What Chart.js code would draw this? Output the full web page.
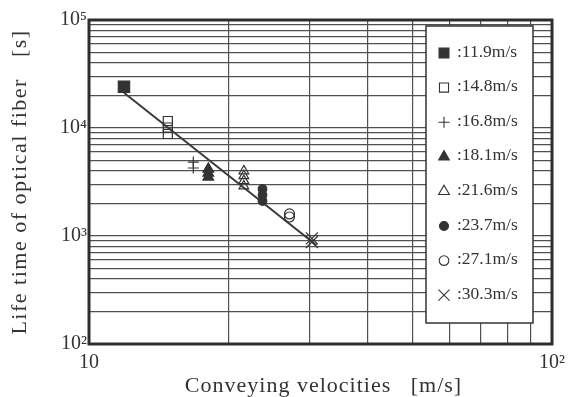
<!DOCTYPE html>
<html><head><meta charset="utf-8">
<script src="https://cdn.jsdelivr.net/npm/chart.js@4.4.1/dist/chart.umd.min.js"></script>
<style>html,body{margin:0;padding:0;background:#fff;}#wrap{width:574px;height:397px;}</style>
</head><body><div id="wrap"><canvas id="c" width="574" height="397"></canvas></div>
<script>
// ---- data ----
const seriesLabels = [':11.9m/s', ':14.8m/s', ':16.8m/s', ':18.1m/s', ':21.6m/s', ':23.7m/s', ':27.1m/s', ':30.3m/s'];
const velocities = [11.9, 14.8, 16.8, 18.1, 21.6, 23.7, 27.1, 30.3];
const life119 = [24100];
const life148 = [11600, 10100, 8800];
const life168 = [4840, 4260];
const life181 = [4170, 3830, 3520];
const life216 = [4000, 3600, 3250, 2900];
const life237 = [2720, 2400, 2110];
const life271 = [1600, 1500];
const life303 = [950, 880];
const lifeTimes = [life119, life148, life168, life181, life216, life237, life271, life303];
const fitX = [11.9, 31.0];
const fitY = [21200, 820];
const xTickValues = [10, 20, 30, 40, 50, 60, 70, 80, 90, 100];
const yTickValues = [100, 200, 300, 400, 500, 600, 700, 800, 900,
  1000, 2000, 3000, 4000, 5000, 6000, 7000, 8000, 9000,
  10000, 20000, 30000, 40000, 50000, 60000, 70000, 80000, 90000, 100000];
const xTickLabels = {10: '10', 100: '10\u00B2'};
const yTickLabels = {100: '10\u00B2', 1000: '10\u00B3', 10000: '10\u2074', 100000: '10\u2075'};
const xTitle = 'Conveying velocities   [m/s]';
const yTitle = 'Life time of optical fiber   [s]';

// ---- styles ----
const INK = '#333';
const NONE = 'rgba(0,0,0,0)';
const markerStyles = [
  {pointStyle: 'rect', radius: 8, fill: INK, legendRadius: 7},
  {pointStyle: 'rect', radius: 6.4, fill: NONE, legendRadius: 6.4},
  {pointStyle: 'cross', radius: 5.5, fill: NONE, legendRadius: 5.5},
  {pointStyle: 'triangle', radius: 6.2, fill: INK, legendRadius: 6.2},
  {pointStyle: 'triangle', radius: 5.6, fill: NONE, legendRadius: 6.2},
  {pointStyle: 'circle', radius: 4.3, fill: INK, legendRadius: 4.5},
  {pointStyle: 'circle', radius: 5, fill: NONE, legendRadius: 4.8},
  {pointStyle: 'crossRot', radius: 8.5, fill: NONE, legendRadius: 7.8}
];
const SERIF = "'Liberation Serif', 'DejaVu Serif', serif";

const datasets = velocities.map((v, i) => ({
  type: 'scatter',
  label: seriesLabels[i],
  data: lifeTimes[i].map(t => ({x: v, y: t})),
  pointStyle: markerStyles[i].pointStyle,
  pointRadius: markerStyles[i].radius,
  pointHoverRadius: markerStyles[i].radius,
  backgroundColor: markerStyles[i].fill,
  borderColor: INK,
  borderWidth: 1.2
}));
datasets.push({
  type: 'line',
  label: 'fit',
  data: fitX.map((x, i) => ({x: x, y: fitY[i]})),
  borderColor: '#3a3a3a',
  borderWidth: 2,
  pointRadius: 0,
  fill: false
});

const framePlugin = {
  id: 'frameAndLegend',
  afterDraw(chart) {
    const ctx = chart.ctx;
    const a = chart.chartArea;
    ctx.save();
    // legend box
    const bx = 426, by = 26, bw = 107, bh = 297;
    ctx.fillStyle = '#fff';
    ctx.fillRect(bx, by, bw, bh);
    ctx.strokeStyle = INK;
    ctx.lineWidth = 1.5;
    ctx.strokeRect(bx, by, bw, bh);
    ctx.font = '17.5px ' + SERIF;
    ctx.textBaseline = 'middle';
    ctx.textAlign = 'left';
    for (let i = 0; i < seriesLabels.length; i++) {
      const y = 52 + i * 34.6;
      const m = markerStyles[i];
      ctx.fillStyle = m.fill;
      ctx.strokeStyle = INK;
      ctx.lineWidth = 1.1;
      Chart.helpers.drawPoint(ctx, {pointStyle: m.pointStyle, radius: m.legendRadius, rotation: 0, borderWidth: 1.1}, 444, y + 1);
      ctx.fillStyle = INK;
      ctx.fillText(seriesLabels[i], 457, y);
    }
    // frame
    ctx.strokeStyle = '#2e2e2e';
    ctx.lineWidth = 3;
    ctx.strokeRect(a.left, a.top, a.right - a.left, a.bottom - a.top);
    // axis titles
    ctx.fillStyle = INK;
    ctx.textAlign = 'center';
    ctx.textBaseline = 'middle';
    ctx.font = '22px ' + SERIF;
    if ('letterSpacing' in ctx) ctx.letterSpacing = '1px';
    ctx.fillText(xTitle, (a.left + a.right) / 2 + 3, 386);
    if ('letterSpacing' in ctx) ctx.letterSpacing = '1.5px';
    ctx.translate(20, (a.top + a.bottom) / 2);
    ctx.rotate(-Math.PI / 2);
    ctx.fillText(yTitle, 0, 0);
    ctx.restore();
  }
};

new Chart(document.getElementById('c'), {
  type: 'scatter',
  data: {datasets: datasets},
  options: {
    responsive: false,
    animation: false,
    devicePixelRatio: 1,
    layout: {padding: {left: 0, top: 20, right: 19, bottom: 0}},
    plugins: {legend: {display: false}, tooltip: {enabled: false}},
    scales: {
      x: {
        type: 'logarithmic', position: 'bottom', min: 10, max: 100,
        grid: {color: '#505050', lineWidth: 1.2, drawTicks: false},
        border: {display: false},
        afterBuildTicks: s => { s.ticks = xTickValues.map(v => ({value: v})); },
        ticks: {
          autoSkip: false, maxRotation: 0, padding: 9, color: INK,
          font: {family: SERIF, size: 20, lineHeight: 1},
          callback: v => xTickLabels[Math.round(v)] || ''
        },
        afterFit: s => { s.height = 53; }
      },
      y: {
        type: 'logarithmic', position: 'left', min: 100, max: 100000,
        grid: {color: '#505050', lineWidth: 1.2, drawTicks: false},
        border: {display: false},
        afterBuildTicks: s => { s.ticks = yTickValues.map(v => ({value: v})); },
        ticks: {
          autoSkip: false, padding: 2, color: INK,
          font: {family: SERIF, size: 20, lineHeight: 1},
          callback: v => yTickLabels[Math.round(v)] || ''
        },
        afterFit: s => { s.width = 89; }
      }
    }
  },
  plugins: [framePlugin]
});
</script></body></html>
